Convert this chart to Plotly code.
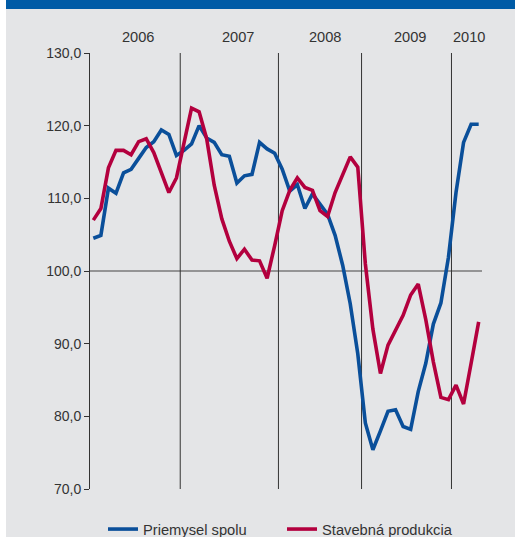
import plotly.graph_objects as go

# ---- data ----
years = [2006, 2007, 2008, 2009, 2010]
months = [f"{y}-{m:02d}" for y in years for m in range(1, 13)][:52]  # Jan 2006 .. Apr 2010

priemysel = [104.5, 104.9, 111.4, 110.7, 113.5, 114.0, 115.5, 117.0, 117.8, 119.4, 118.8, 115.9,
             116.6, 117.5, 120.0, 118.3, 117.7, 116.0, 115.8, 112.1, 113.1, 113.3, 117.7, 116.8,
             116.2, 114.0, 111.0, 111.9, 108.6, 110.6, 109.2, 107.8, 104.9, 100.8, 95.5, 88.6,
             79.1, 75.4, 78.0, 80.7, 80.9, 78.6, 78.2, 83.4, 87.3, 92.7, 95.6, 101.9,
             110.8, 117.7, 120.2, 120.2]

stavebna = [107.0, 108.6, 114.2, 116.6, 116.6, 116.0, 117.8, 118.2, 116.3, 113.6, 110.8, 112.8,
            117.5, 122.4, 121.9, 118.2, 111.8, 107.2, 104.1, 101.7, 103.0, 101.5, 101.4, 99.0,
            103.5, 108.3, 111.1, 112.8, 111.5, 111.1, 108.3, 107.5, 110.8, 113.4, 115.7, 114.3,
            101.0, 92.0, 85.9, 89.8, 91.9, 93.9, 96.7, 98.2, 93.3, 87.5, 82.6, 82.3,
            84.3, 81.7, 87.3, 93.0]

year_labels = ["2006", "2007", "2008", "2009", "2010"]
year_label_pos = [5.87, 19.2, 30.7, 41.97, 49.7]      # in month-index units
year_separators = [11.5, 24.5, 35.5, 47.4]            # in month-index units

y_ticks = [70, 80, 90, 100, 110, 120, 130]
y_ticktext = ["70,0", "80,0", "90,0", "100,0", "110,0", "120,0", "130,0"]

BLUE = "#0a4f9a"
RED = "#b3003e"
BG = "#e4e5e7"
TXT = "#333333"
FONT = "Liberation Sans, Arial, sans-serif"

# ---- layout geometry ----
W, H = 515, 537
ML, MR, MT, MB = 90, 33, 53, 48
PW, PH = W - ML - MR, H - MT - MB

def px_x(p):
    return (p - ML) / PW

def px_y(p):
    return (H - MB - p) / PH

xidx = list(range(len(months)))

fig = go.Figure()
fig.add_trace(go.Scatter(x=xidx, y=priemysel, mode="lines", name="Priemysel spolu",
                         line=dict(color=BLUE, width=3.6)))
fig.add_trace(go.Scatter(x=xidx, y=stavebna, mode="lines", name="Stavebná produkcia",
                         line=dict(color=RED, width=3.6)))

shapes = []
# white left strip and blue top bar
shapes.append(dict(type="rect", xref="paper", yref="paper", x0=px_x(-2), x1=px_x(6),
                   y0=px_y(H + 2), y1=px_y(-2), fillcolor="white", line=dict(width=0), layer="below"))
shapes.append(dict(type="rect", xref="paper", yref="paper", x0=px_x(6), x1=px_x(W + 2),
                   y0=px_y(9), y1=px_y(-2), fillcolor="#005ba6", line=dict(width=0), layer="below"))
# horizontal line at 100
shapes.append(dict(type="line", xref="x", yref="y", x0=-0.44, x1=51.44, y0=100, y1=100,
                   line=dict(color="#444444", width=1.2), layer="below"))
# year separators
for s in year_separators:
    shapes.append(dict(type="line", xref="x", yref="y", x0=s, x1=s, y0=70, y1=130,
                       line=dict(color="#333333", width=1), layer="below"))

annotations = []
for lbl, pos in zip(year_labels, year_label_pos):
    annotations.append(dict(x=pos, xref="x", y=px_y(37), yref="paper", text=lbl,
                            showarrow=False, xanchor="center", yanchor="middle",
                            font=dict(size=14.6, color=TXT, family=FONT)))

fig.update_layout(
    width=W, height=H,
    margin=dict(l=ML, r=MR, t=MT, b=MB, autoexpand=False),
    paper_bgcolor=BG, plot_bgcolor="rgba(0,0,0,0)",
    font=dict(family=FONT, size=14, color=TXT),
    shapes=shapes, annotations=annotations,
    showlegend=True,
    legend=dict(orientation="h", x=px_x(103), xanchor="left", y=px_y(513), yanchor="top",
                bgcolor="rgba(0,0,0,0)", font=dict(size=14.7, color=TXT, family=FONT),
                entrywidth=134, entrywidthmode="pixels", itemwidth=30),
    xaxis=dict(range=[-0.44, 51.44], visible=False, showgrid=False, zeroline=False),
    yaxis=dict(range=[70, 130], tickvals=y_ticks, ticktext=y_ticktext, showgrid=False,
               zeroline=False, showline=True, linecolor="#333333", linewidth=1,
               ticks="outside", ticklen=5, tickcolor="#333333", tickwidth=1,
               tickfont=dict(size=14, color=TXT, family=FONT)),
)

fig.write_html("out.html", config={"displayModeBar": False},
               post_script="document.body.style.margin='0';document.body.style.padding='0';")
